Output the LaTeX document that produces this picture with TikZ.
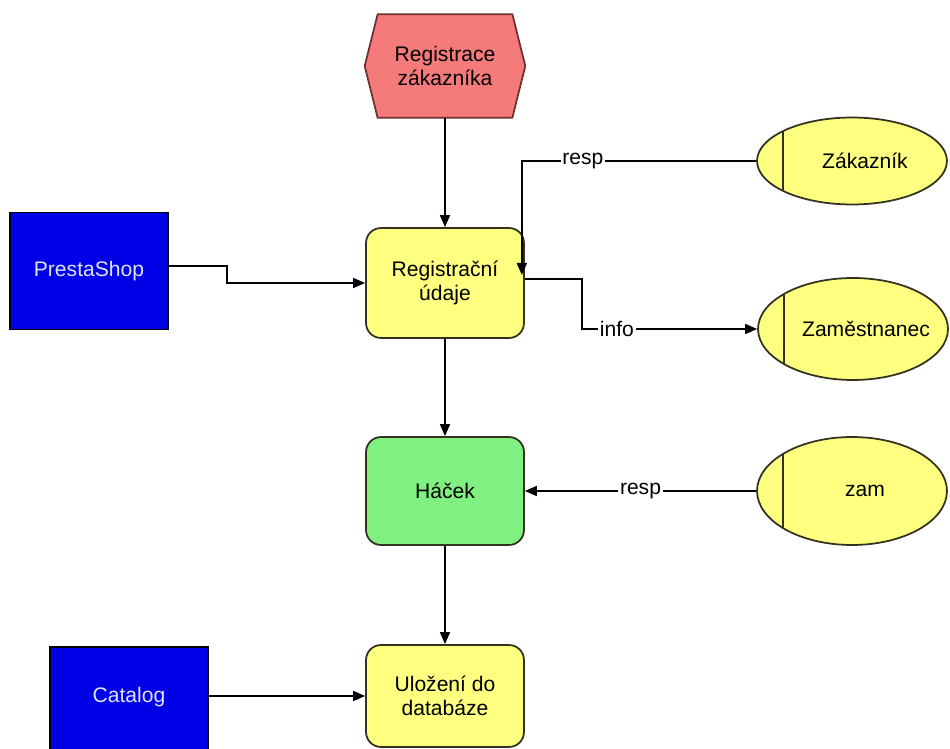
\documentclass[tikz,border=0pt]{standalone}
\usepackage{fontspec}
\setmainfont{Liberation Sans}
\usetikzlibrary{shapes.geometric, arrows.meta, positioning, calc, backgrounds}

\definecolor{hexred}{RGB}{245,122,122}
\definecolor{hexedge}{RGB}{110,50,50}
\definecolor{boxyellow}{RGB}{255,255,128}
\definecolor{boxgreen}{RGB}{128,240,128}
\definecolor{boxblue}{RGB}{0,0,230}
\definecolor{bluetext}{RGB}{225,225,255}
\definecolor{edgedark}{RGB}{50,50,30}

% text in the actor ellipses sits right of the inner bar
\newcommand{\actortext}[1]{\makebox[0pt]{\hspace*{0.52cm}#1}}

\begin{document}
\begin{tikzpicture}[x=0.02cm, y=-0.02cm,
    font=\fontsize{12}{14}\selectfont,
    hexnode/.style={rectangle, minimum width=3.2cm, minimum height=2.06cm, inner sep=0pt, align=center},
    procbox/.style={rectangle, rounded corners=0.3cm, draw=edgedark, line width=1pt, minimum width=3.16cm, minimum height=2.16cm, align=center, inner sep=0pt},
    sysbox/.style={rectangle, draw=black, line width=1pt, fill=boxblue, text=bluetext, minimum width=3.16cm, inner sep=0pt},
    actor/.style={ellipse, draw=edgedark, line width=1pt, fill=boxyellow, minimum width=3.8cm, inner sep=0pt,
      path picture={\draw[line width=1pt, edgedark] ([xshift=0.52cm]path picture bounding box.south west) -- ([xshift=0.52cm]path picture bounding box.north west);}},
    arrow/.style={-{Triangle[length=0.24cm, width=0.2cm]}, line width=0.9pt},
    flowlabel/.style={fill=white, inner sep=1pt}
  ]
  \useasboundingbox (0,0) rectangle (950,749);

  % --- main flow ---
  \node[hexnode] (regzak) at (445,66) {Registrace\\zákazníka};
  \begin{scope}[on background layer]
    \draw[fill=hexred, draw=hexedge, line width=1pt] (regzak.west) -- ([xshift=0.26cm]regzak.north west) -- ([xshift=-0.26cm]regzak.north east) -- (regzak.east) -- ([xshift=-0.26cm]regzak.south east) -- ([xshift=0.26cm]regzak.south west) -- cycle;
  \end{scope}

  \node[procbox, fill=boxyellow, minimum height=2.2cm] (regdata) at (445,283) {Registrační\\údaje};
  \node[procbox, fill=boxgreen] (hacek) at (445,491) {Háček};
  \node[procbox, fill=boxyellow, minimum height=2.04cm] (ulozeni) at (445,696) {Uložení do\\databáze};

  % --- systems ---
  \node[sysbox, minimum height=2.34cm] (presta) at (89,271) {PrestaShop};
  \node[sysbox, text height=1.1cm, text depth=1.36cm, anchor=base] (catalog) at (129,702) {Catalog};

  % --- actors ---
  \node[actor, minimum height=1.74cm] (zak) at (852,161) {\actortext{Zákazník}};
  \node[actor, minimum height=2.04cm] (zamest) at (853,329) {\actortext{Zaměstnanec}};
  \node[actor, minimum height=2.16cm] (zam) at (852,491) {\actortext{zam}};

  % --- connectors ---
  \draw[arrow] (regzak) -- (regdata);
  \draw[arrow] (regdata) -- (hacek);
  \draw[arrow] (hacek) -- (ulozeni);
  \draw[arrow] ([yshift=0.1cm]presta.east) -- ++(58,0) |- (regdata.west);
  \draw[arrow] (catalog.east |- ulozeni.west) -- (ulozeni.west);

  \coordinate (respin) at ([xshift=-0.06cm, yshift=0.16cm]regdata.east);
  \draw[arrow] (zak.west) -| node[flowlabel, pos=0.37] {resp} (respin);
  \draw[arrow] ([yshift=0.08cm]regdata.east) -- ++(57,0) |- node[flowlabel, pos=0.6] {info} (zamest.west);
  \draw[arrow] (zam.west) -- node[flowlabel] {resp} (hacek.east);
\end{tikzpicture}
\end{document}
